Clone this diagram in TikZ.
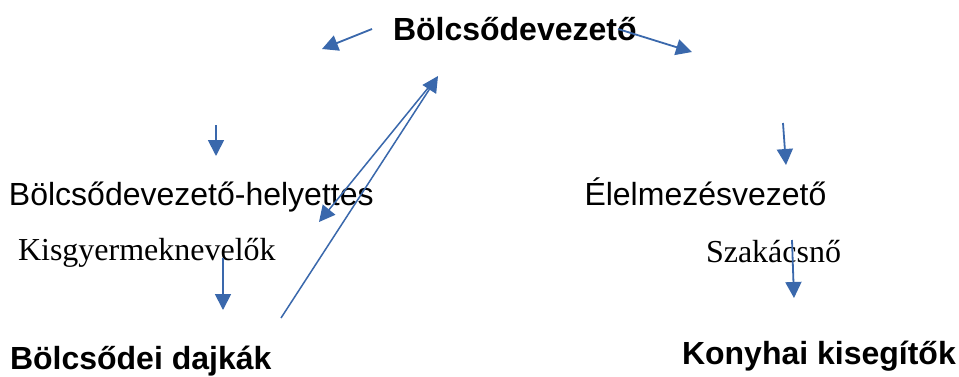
\documentclass[tikz,border=0pt]{standalone}
\usepackage{fontspec}
\setmainfont{Liberation Serif}
\newfontfamily\sansfam{Liberation Sans}
\usetikzlibrary{arrows.meta}
\definecolor{arrowblue}{HTML}{3A68AC}
\tikzset{
  lbl/.style={anchor=base west, inner sep=0pt, outer sep=0pt, font=\fontsize{32}{38}\selectfont},
  sanslbl/.style={lbl, font=\sansfam\fontsize{32}{38}\selectfont},
  boldlbl/.style={lbl, font=\sansfam\bfseries\fontsize{32}{38}\selectfont},
  serlbl/.style={lbl, font=\rmfamily\fontsize{32}{38}\selectfont},
  arr/.style={draw=arrowblue, line width=1.8pt, -{Triangle[length=16pt,width=16pt]}, fill=arrowblue},
  thinarr/.style={arr, line width=1.5pt}
}
\begin{document}
\begin{tikzpicture}[x=1pt,y=-1pt]
\useasboundingbox[fill=white] (0,0) rectangle (959,376);
% texts
\node[boldlbl] (head) at (393,40) {Bölcsődevezető};
\node[sanslbl] (dep) at (9,205) {Bölcsődevezető-helyettes};
\node[sanslbl] (food) at (584.5,205) {Élelmezésvezető};
\node[serlbl] (kids) at (18,260) {Kisgyermeknevelők};
\node[serlbl] (cook) at (706,262) {Szakácsnő};
\node[boldlbl] (nurse) at (10,369) {Bölcsődei dajkák};
\node[boldlbl] (kitchen) at (682,364) {Konyhai kisegítők};
% arrow end points
\coordinate (a1s) at (372,29);  \coordinate (a1e) at (322,49);
\coordinate (a2s) at (618,29);  \coordinate (a2e) at (692,52);
\coordinate (a3s) at (216,125); \coordinate (a3e) at (216,156);
\coordinate (a4s) at (783,123); \coordinate (a4e) at (786,165);
\coordinate (a5s) at (792,240); \coordinate (a5e) at (794,298);
\coordinate (a6s) at (223,258); \coordinate (a6e) at (223,310);
\coordinate (a7s) at (281,318); \coordinate (a7e) at (438,76);
\coordinate (a8s) at (428,88);  \coordinate (a8e) at (319,222);
% arrows
\draw[arr] (a1s) -- (a1e);
\draw[arr] (a2s) -- (a2e);
\draw[arr] (a3s) -- (a3e);
\draw[arr] (a4s) -- (a4e);
\draw[arr] (a5s) -- (a5e);
\draw[arr] (a6s) -- (a6e);
\draw[thinarr] (a7s) -- (a7e);
\draw[thinarr] (a8s) -- (a8e);
\end{tikzpicture}
\end{document}
